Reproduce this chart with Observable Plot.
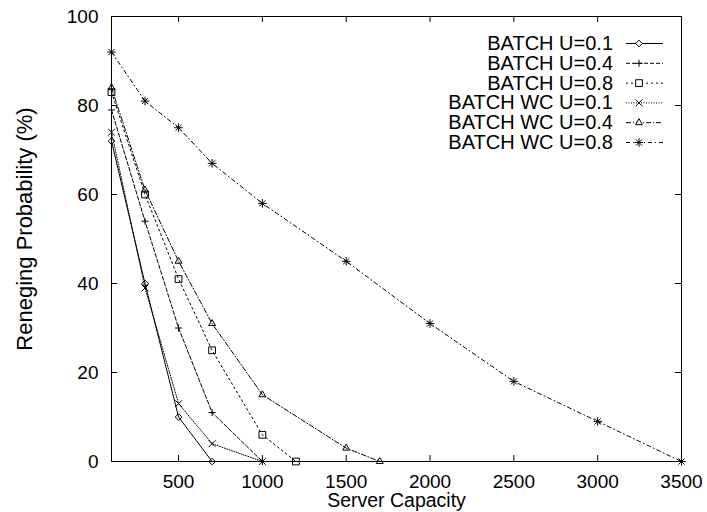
<!DOCTYPE html>
<html>
<head>
<meta charset="utf-8">
<script src="https://cdn.jsdelivr.net/npm/d3@7"></script>
<script src="https://cdn.jsdelivr.net/npm/@observablehq/plot@0.6"></script>
<style>
  html, body { margin: 0; padding: 0; background: #fff; }
</style>
</head>
<body>
<div id="chart"></div>
<script>
// Reneging probability (%) against server capacity, per scheduling policy and load.
const seriesNames = [
  "BATCH U=0.1", "BATCH U=0.4", "BATCH U=0.8",
  "BATCH WC U=0.1", "BATCH WC U=0.4", "BATCH WC U=0.8"
];

const batchU01Capacity = [100, 300, 500, 700];
const batchU01Reneging = [72, 40, 10, 0];

const batchU04Capacity = [100, 300, 500, 700, 1000];
const batchU04Reneging = [79, 54, 30, 11, 0];

const batchU08Capacity = [100, 300, 500, 700, 1000, 1200];
const batchU08Reneging = [83, 60, 41, 25, 6, 0];

const wcU01Capacity = [100, 300, 500, 700, 1000];
const wcU01Reneging = [74, 39, 13, 4, 0];

const wcU04Capacity = [100, 300, 500, 700, 1000, 1500, 1700];
const wcU04Reneging = [84, 61, 45, 31, 15, 3, 0];

const wcU08Capacity = [100, 300, 500, 700, 1000, 1500, 2000, 2500, 3000, 3500];
const wcU08Reneging = [92, 81, 75, 67, 58, 45, 31, 18, 9, 0];

const xTicks = [500, 1000, 1500, 2000, 2500, 3000, 3500];
const yTicks = [0, 20, 40, 60, 80, 100];
const xTitle = "Server Capacity";
const yTitle = "Reneging Probability (%)";

// Line and point styles, one per series
const styles = [
  {symbols: [d3.symbolDiamond2], r: 3.0, dash: undefined},
  {symbols: [d3.symbolPlus], r: 2.4, dash: "4,2"},
  {symbols: [d3.symbolSquare2], r: 4.3, dash: "2,3"},
  {symbols: [d3.symbolTimes], r: 3.2, dash: "1,1.5"},
  {symbols: [d3.symbolTriangle2], r: 3.3, dash: "5,2,1,2"},
  {symbols: [d3.symbolPlus, d3.symbolTimes], r: 2.9, dash: "4,3,1,3"}
];

const seriesData = [
  [batchU01Capacity, batchU01Reneging],
  [batchU04Capacity, batchU04Reneging],
  [batchU08Capacity, batchU08Reneging],
  [wcU01Capacity, wcU01Reneging],
  [wcU04Capacity, wcU04Reneging],
  [wcU08Capacity, wcU08Reneging]
];

const W = 707, H = 512;
const M = {top: 16, right: 26, bottom: 51, left: 111};
const plotW = W - M.left - M.right;
const plotH = H - M.top - M.bottom;
const FONT = "'Liberation Sans', Arial, Helvetica, sans-serif";
const FONT_SIZE = 19;

const marks = [];
seriesData.forEach(([xs, ys], i) => {
  const rows = xs.map((x, j) => ({capacity: x, reneging: ys[j]}));
  const st = styles[i];
  marks.push(Plot.line(rows, {
    x: "capacity", y: "reneging", stroke: "black", strokeWidth: 1,
    strokeDasharray: st.dash
  }));
  st.symbols.forEach(sym => {
    marks.push(Plot.dot(rows, {
      x: "capacity", y: "reneging", symbol: sym, r: st.r,
      stroke: "black", fill: "none", strokeWidth: 1
    }));
  });
});

const chart = Plot.plot({
  width: W,
  height: H,
  marginTop: M.top,
  marginRight: M.right,
  marginBottom: M.bottom,
  marginLeft: M.left,
  style: {fontFamily: FONT, fontSize: FONT_SIZE + "px", background: "white", color: "black", overflow: "visible"},
  x: {domain: [100, 3500]},
  y: {domain: [0, 100]},
  marks: [
    // inward tick marks on all four sides
    Plot.tickX(xTicks, {x: d => d, insetTop: plotH - 6, stroke: "black"}),
    Plot.tickX(xTicks, {x: d => d, insetBottom: plotH - 6, stroke: "black"}),
    Plot.tickY(yTicks, {y: d => d, insetRight: plotW - 6, stroke: "black"}),
    Plot.tickY(yTicks, {y: d => d, insetLeft: plotW - 6, stroke: "black"}),
    Plot.axisX({ticks: xTicks, tickFormat: d3.format("d"), tickSize: 0, tickPadding: 13, label: null}),
    Plot.axisY({ticks: yTicks, tickFormat: d3.format("d"), tickSize: 0, tickPadding: 13, label: null}),
    Plot.text([xTitle], {text: d => d, frameAnchor: "bottom", lineAnchor: "middle", textAnchor: "middle", dy: 39, fontSize: 19.5}),
    Plot.text([yTitle], {text: d => d, frameAnchor: "left", lineAnchor: "middle", textAnchor: "middle", rotate: -90, dx: -87, dy: -10, fontSize: 22}),
    ...marks,
    Plot.frame({stroke: "black", strokeWidth: 1})
  ]
});

// Key in the top-right corner: label, line sample and point symbol
const svg = d3.select(chart);
const key = svg.append("g")
  .attr("font-family", FONT)
  .attr("font-size", 20);
const right = W - M.right;
seriesNames.forEach((name, i) => {
  const st = styles[i];
  const y = M.top + 27.5 + i * 19.8;
  key.append("text")
    .attr("x", right - 68)
    .attr("y", y)
    .attr("dy", "0.32em")
    .attr("text-anchor", "end")
    .attr("fill", "black")
    .text(name);
  key.append("line")
    .attr("x1", right - 55).attr("x2", right - 18)
    .attr("y1", y).attr("y2", y)
    .attr("stroke", "black")
    .attr("stroke-width", 1)
    .attr("stroke-dasharray", st.dash || null);
  st.symbols.forEach(sym => {
    key.append("path")
      .attr("transform", `translate(${right - 42},${y})`)
      .attr("d", d3.symbol(sym, Math.PI * st.r * st.r)())
      .attr("fill", "white")
      .attr("stroke", "black")
      .attr("stroke-width", 1);
  });
});

document.getElementById("chart").appendChild(chart);
</script>
</body>
</html>
